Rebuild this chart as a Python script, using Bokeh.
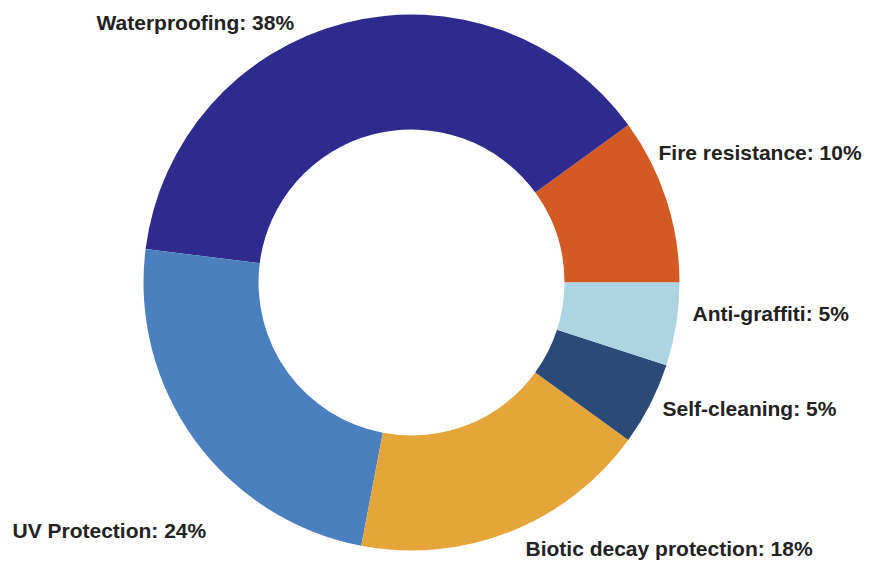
import numpy as np
from bokeh.plotting import figure
from bokeh.models import Range1d, ColumnDataSource
from bokeh.core.properties import value
from bokeh.embed import file_html
from bokeh.resources import INLINE

# Data (counter-clockwise from 3 o'clock)
categories = ["Fire resistance", "Waterproofing", "UV Protection",
              "Biotic decay protection", "Self-cleaning", "Anti-graffiti"]
shares = [10, 38, 24, 18, 5, 5]
colors = ["#D35A22", "#2F2B8E", "#4A80C0", "#E5A53A", "#2A4A78", "#ADD4E2"]

W, H = 870, 563
cx, cy = 411, H - 282
r_out, r_in = 268, 153

frac = np.array(shares, dtype=float) / sum(shares)
ends = np.cumsum(frac) * 2 * np.pi
starts = np.concatenate([[0.0], ends[:-1]])

src = ColumnDataSource(dict(start=starts, end=ends, color=colors))

p = figure(width=W, height=H, output_backend="svg", toolbar_location=None,
           x_range=Range1d(0, W), y_range=Range1d(0, H),
           min_border=0, outline_line_color=None)
p.axis.visible = False
p.grid.visible = False
p.background_fill_color = "white"

p.annular_wedge(x=cx, y=cy, inner_radius=r_in, outer_radius=r_out,
                start_angle="start", end_angle="end", direction="anticlock",
                color="color", line_color=None, source=src)

# label layout (screen px, top-left origin) in category order
label_pos = [(658, 152), (96, 22), (12, 530), (525, 548), (662, 408), (692, 313)]
lx = [x for x, _ in label_pos]
ly = [H - y for _, y in label_pos]
labels = [f"{c}: {s}%" for c, s in zip(categories, shares)]
p.text(x=lx, y=ly, text=labels, text_align="left", text_baseline="middle",
       text_font=value("Liberation Sans"), text_font_style="bold",
       text_font_size="21px", text_color="#222222")

open("out.html", "w").write(file_html(p, INLINE))
